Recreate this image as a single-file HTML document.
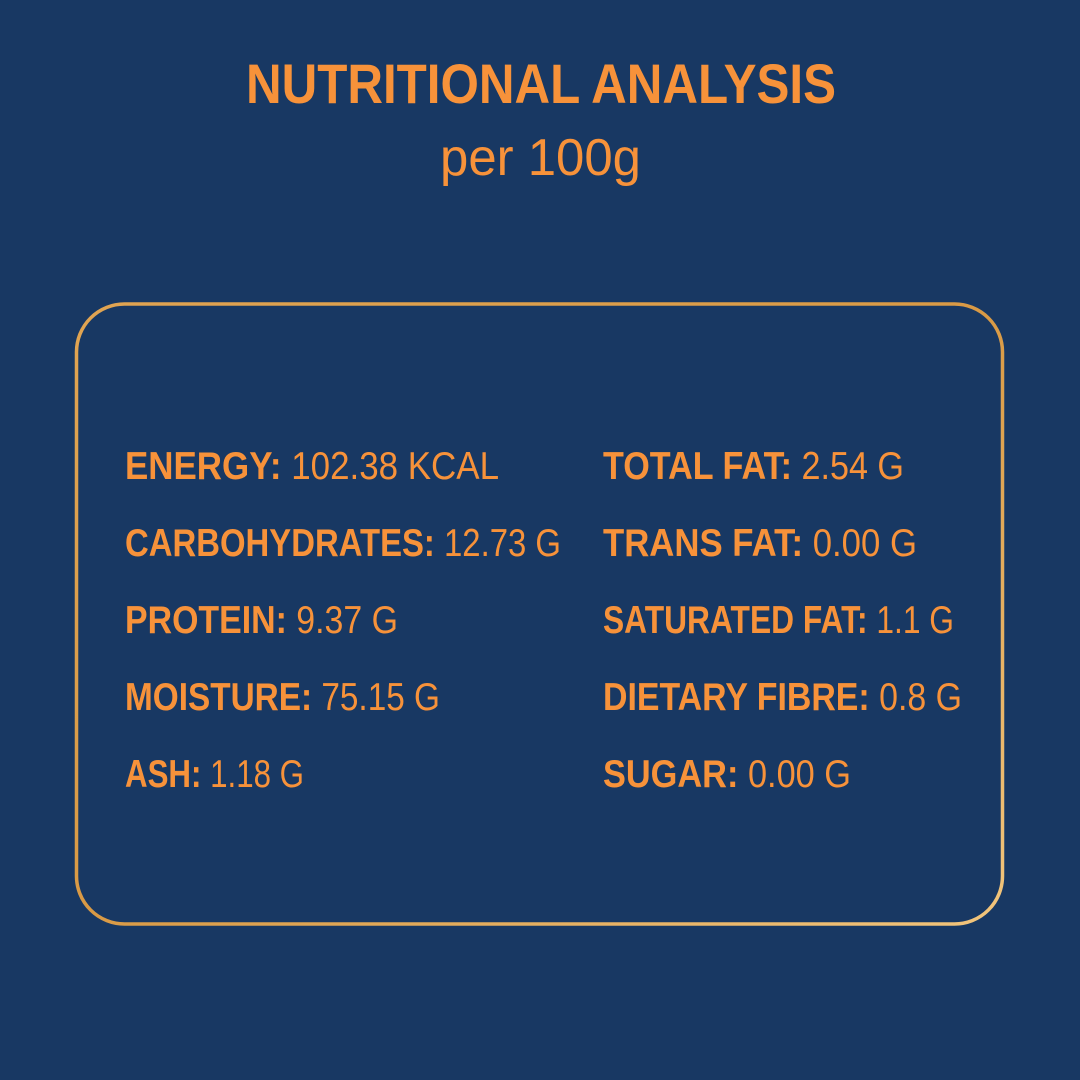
<!DOCTYPE html>
<html><head><meta charset="utf-8"><style>
html,body{margin:0;padding:0;background:#183863;}
svg{display:block}
text{font-family:"Liberation Sans",sans-serif;fill:#f7923a}
.b{font-weight:bold}
</style></head><body>
<svg width="1080" height="1080" viewBox="0 0 1080 1080" xmlns="http://www.w3.org/2000/svg">
<defs>
<linearGradient id="g" x1="0" y1="0" x2="1" y2="1">
<stop offset="0" stop-color="#e0a452"/>
<stop offset="0.5" stop-color="#d99a45"/>
<stop offset="1" stop-color="#f2c57c"/>
</linearGradient>
</defs>
<rect width="1080" height="1080" fill="#183863"/>
<text x="246" y="103" class="b" font-size="56" textLength="590" lengthAdjust="spacingAndGlyphs">NUTRITIONAL ANALYSIS</text>
<text x="440" y="175" font-size="52" textLength="201" lengthAdjust="spacingAndGlyphs">per 100g</text>
<rect x="76.5" y="304" width="926" height="620" rx="48" ry="48" fill="none" stroke="url(#g)" stroke-width="3.5"/>
<g font-size="39">
<text x="125" y="479" textLength="374" lengthAdjust="spacingAndGlyphs"><tspan class="b">ENERGY:</tspan>  102.38 KCAL</text>
<text x="125" y="556" textLength="436" lengthAdjust="spacingAndGlyphs"><tspan class="b">CARBOHYDRATES:</tspan> 12.73 G</text>
<text x="125" y="633" textLength="273" lengthAdjust="spacingAndGlyphs"><tspan class="b">PROTEIN:</tspan> 9.37 G</text>
<text x="125" y="710" textLength="315" lengthAdjust="spacingAndGlyphs"><tspan class="b">MOISTURE:</tspan> 75.15 G</text>
<text x="125" y="787" textLength="179" lengthAdjust="spacingAndGlyphs"><tspan class="b">ASH:</tspan> 1.18 G</text>
<text x="603" y="479" textLength="301" lengthAdjust="spacingAndGlyphs"><tspan class="b">TOTAL FAT:</tspan> 2.54 G</text>
<text x="603" y="556" textLength="314" lengthAdjust="spacingAndGlyphs"><tspan class="b">TRANS FAT:</tspan> 0.00 G</text>
<text x="603" y="633" textLength="351" lengthAdjust="spacingAndGlyphs"><tspan class="b">SATURATED FAT:</tspan> 1.1 G</text>
<text x="603" y="710" textLength="359" lengthAdjust="spacingAndGlyphs"><tspan class="b">DIETARY FIBRE:</tspan> 0.8 G</text>
<text x="603" y="787" textLength="248" lengthAdjust="spacingAndGlyphs"><tspan class="b">SUGAR:</tspan> 0.00 G</text>
</g>
</svg>
</body></html>
